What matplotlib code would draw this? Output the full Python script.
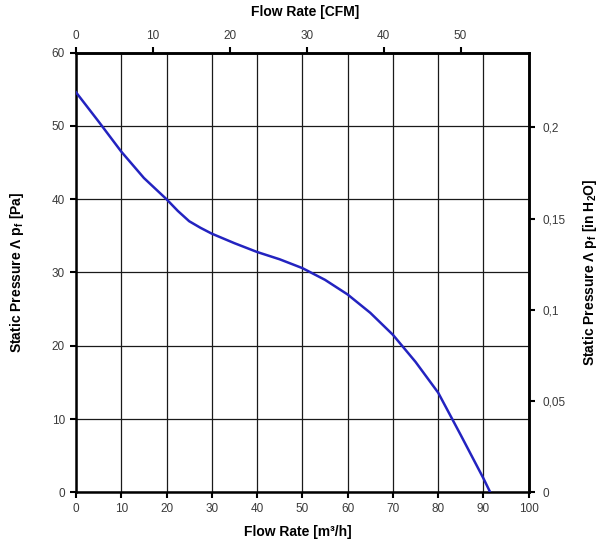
import numpy as np
import matplotlib; matplotlib.use("Agg")
import matplotlib.pyplot as plt
from matplotlib.ticker import FuncFormatter

plt.rcParams.update({"font.family": ["Liberation Sans", "DejaVu Sans"], "mathtext.fontset": "custom",
                     "mathtext.rm": "Liberation Sans", "mathtext.bf": "Liberation Sans:bold"})

# curve: flow [m3/h] vs static pressure [Pa]
flow = [0, 5, 10, 15, 20, 22.5, 25, 27.5, 30, 35, 40, 45, 50, 55, 60, 65, 70, 75, 80, 85, 90, 91.5]
pressure = [54.6, 50.6, 46.5, 42.9, 40.0, 38.4, 37.0, 36.1, 35.3, 34.0, 32.8, 31.8, 30.6, 29.0,
            27.0, 24.5, 21.5, 17.8, 13.6, 7.8, 1.9, 0.0]
x_ticks = [0, 10, 20, 30, 40, 50, 60, 70, 80, 90, 100]
y_ticks = [0, 10, 20, 30, 40, 50, 60]
cfm_ticks = [0, 10, 20, 30, 40, 50]
inh2o_ticks = [0, 0.05, 0.1, 0.15, 0.2]

M3H_PER_CFM = 1.699
PA_PER_INH2O = 249.09
TICK = "#3a3a3a"

fig = plt.figure(figsize=(6.05, 5.5), dpi=100)
ax = fig.add_axes([0.1256, 0.1049, 0.8739 - 0.1256, 0.9042 - 0.1049])
ax.plot(flow, pressure, color="#2323c0", lw=1.8, zorder=3)
ax.set_xlim(0, 100); ax.set_ylim(0, 60)
ax.set_xticks(x_ticks); ax.set_yticks(y_ticks)
ax.grid(True, color="#1a1a1a", lw=0.9)
for s in ax.spines.values():
    s.set_linewidth(1.8); s.set_color("black")
ax.tick_params(direction="out", length=4, width=1.5, labelsize=8.5, labelcolor=TICK, pad=4)

top = ax.secondary_xaxis("top", functions=(lambda v: v / M3H_PER_CFM, lambda v: v * M3H_PER_CFM))
top.set_xticks(cfm_ticks)
top.tick_params(direction="out", length=4, width=1.5, labelsize=8.5, labelcolor=TICK, pad=4)
top.spines["top"].set_linewidth(1.8)

right = ax.secondary_yaxis("right", functions=(lambda v: v / PA_PER_INH2O, lambda v: v * PA_PER_INH2O))
right.set_yticks(inh2o_ticks)
right.yaxis.set_major_formatter(FuncFormatter(lambda v, p: f"{v:g}".replace(".", ",")))
right.tick_params(direction="out", length=4, width=1.5, labelsize=8.5, labelcolor=TICK, pad=6)
right.spines["right"].set_linewidth(1.8)

kw = dict(fontsize=10, fontweight="bold", ha="center", va="center")
fig.text(0.492, 0.033, "Flow Rate [m³/h]", **kw)
fig.text(0.505, 0.978, "Flow Rate [CFM]", **kw)
fig.text(0.028, 0.505, r"Static Pressure Λ p$_\mathbf{f}$ [Pa]", rotation=90, **kw)
fig.text(0.975, 0.505, r"Static Pressure Λ p$_\mathbf{f}$ [in H$_\mathbf{2}$O]", rotation=90, **kw)

fig.savefig("out.png", dpi=100, facecolor="white")
